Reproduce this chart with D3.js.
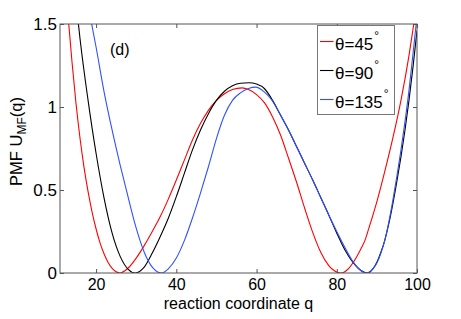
<!DOCTYPE html>
<html>
<head>
<meta charset="utf-8">
<script src="https://cdn.jsdelivr.net/npm/d3@7"></script>
<style>
  body { margin: 0; background: #fff; }
  text { font-family: "Liberation Sans", Arial, Helvetica, sans-serif; fill: #000; }
</style>
</head>
<body>
<div id="chart"></div>
<script>
let svgWidth = 461;
let svgHeight = 319;

let margin = { top: 24, right: 44, bottom: 46, left: 60 };
let width = 417 - margin.left;
let height = 273 - margin.top;

// data: reaction coordinate q and PMF value
let qRed = [13, 14, 15, 16, 17, 18, 19, 20, 21, 22, 23, 24, 25, 26, 28, 30, 32, 34, 36, 38, 40, 42, 44, 46, 48, 50, 52, 54, 56.4, 58, 60, 62, 64, 66, 68, 70, 72, 74, 76, 78, 79.5, 81, 82, 83, 84, 85, 86, 87, 88, 90, 92, 94, 96, 98, 99.2];
let uRed = [1.55, 1.27, 1.02, 0.81, 0.635, 0.49, 0.367, 0.265, 0.18, 0.114, 0.063, 0.028, 0.007, 0, 0.03, 0.09, 0.165, 0.25, 0.34, 0.445, 0.56, 0.68, 0.8, 0.9, 0.98, 1.04, 1.08, 1.105, 1.115, 1.105, 1.075, 1.025, 0.94, 0.83, 0.69, 0.545, 0.39, 0.245, 0.125, 0.045, 0.012, 0, 0.008, 0.028, 0.06, 0.1, 0.145, 0.195, 0.27, 0.43, 0.615, 0.815, 1.04, 1.31, 1.5];

let qBlack = [15.5, 16, 18, 20, 22, 24, 26, 28, 29.75, 32, 34, 36, 38, 40, 42, 44, 46, 48, 50, 52, 54, 56, 58.1, 60, 62, 64, 66, 68, 70, 72, 74, 76, 78, 80, 82, 84, 86, 87.7, 89, 90, 91, 92, 93, 94, 95, 96, 97, 98, 99, 100];
let uBlack = [1.52, 1.41, 1.04, 0.72, 0.45, 0.24, 0.1, 0.022, 0, 0.035, 0.12, 0.22, 0.33, 0.46, 0.6, 0.74, 0.86, 0.96, 1.04, 1.095, 1.128, 1.143, 1.146, 1.138, 1.11, 1.04, 0.95, 0.86, 0.76, 0.66, 0.56, 0.455, 0.35, 0.24, 0.14, 0.065, 0.015, 0, 0.025, 0.065, 0.125, 0.2, 0.3, 0.42, 0.555, 0.7, 0.86, 1.04, 1.24, 1.46];

let qBlue = [18.5, 20, 22, 24, 26, 28, 30, 32, 34, 36.25, 38, 40, 42, 44, 46, 48, 50, 52, 54, 56, 58, 59.75, 62, 64, 66, 68, 70, 72, 74, 76, 78, 80, 82, 84, 86, 87.3, 88, 89, 90, 91, 92, 93, 94, 95, 96, 97, 98, 99, 99.8];
let uBlue = [1.55, 1.36, 1.09, 0.86, 0.65, 0.455, 0.27, 0.125, 0.035, 0, 0.025, 0.09, 0.195, 0.33, 0.48, 0.64, 0.81, 0.95, 1.04, 1.085, 1.112, 1.12, 1.09, 1.035, 0.95, 0.86, 0.76, 0.66, 0.56, 0.455, 0.35, 0.25, 0.155, 0.07, 0.015, 0, 0.005, 0.025, 0.06, 0.12, 0.2, 0.31, 0.44, 0.585, 0.74, 0.91, 1.1, 1.32, 1.5];

let seriesNames = ["θ=45", "θ=90", "θ=135"];
let seriesColors = ["#ff0000", "#000000", "#3050ff"];
let xTicks = [20, 40, 60, 80, 100];
let yTicks = [0, 0.5, 1, 1.5];

let series = [
    { name: seriesNames[0], color: seriesColors[0], q: qRed, u: uRed },
    { name: seriesNames[1], color: seriesColors[1], q: qBlack, u: uBlack },
    { name: seriesNames[2], color: seriesColors[2], q: qBlue, u: uBlue }
];

let svg = d3.select("#chart")
    .append("svg")
    .attr("width", svgWidth)
    .attr("height", svgHeight);

let chartGroup = svg.append("g")
    .attr("transform", `translate(${margin.left}, ${margin.top})`);

let xScale = d3.scaleLinear().domain([11, 100]).range([0, width]);
let yScale = d3.scaleLinear().domain([0, 1.5]).range([height, 0]);

svg.append("defs").append("clipPath")
    .attr("id", "plot-clip")
    .append("rect")
    .attr("width", width)
    .attr("height", height);

// curves
let line = d3.line()
    .x(d => xScale(d[0]))
    .y(d => yScale(d[1]))
    .curve(d3.curveMonotoneX);

chartGroup.append("g")
    .attr("clip-path", "url(#plot-clip)")
    .selectAll("path")
    .data(series)
    .enter()
    .append("path")
    .attr("d", s => line(s.q.map((q, i) => [q, s.u[i]])))
    .attr("fill", "none")
    .attr("stroke", s => s.color)
    .attr("stroke-width", 1.1);

// axes with inward ticks on all sides
let axisColor = "#555";
function styleAxis(g, size) {
    g.select(".domain").remove();
    g.selectAll(".tick line").attr("stroke", axisColor);
    g.selectAll(".tick text")
        .style("font-family", "'Liberation Sans', Arial, sans-serif")
        .style("font-size", size || "17px")
        .attr("fill", "#000");
}

chartGroup.append("g")
    .attr("transform", `translate(0, ${height})`)
    .call(d3.axisBottom(xScale).tickValues(xTicks).tickSize(-4).tickPadding(6))
    .call(styleAxis, "16px");

chartGroup.append("g")
    .call(d3.axisTop(xScale).tickValues(xTicks).tickSize(-4).tickFormat(""))
    .call(styleAxis);

chartGroup.append("g")
    .call(d3.axisLeft(yScale).tickValues(yTicks).tickSize(-4).tickPadding(3).tickFormat(d => d))
    .call(styleAxis);

chartGroup.append("g")
    .attr("transform", `translate(${width}, 0)`)
    .call(d3.axisRight(yScale).tickValues(yTicks).tickSize(-4).tickFormat(""))
    .call(styleAxis);

chartGroup.append("rect")
    .attr("width", width)
    .attr("height", height)
    .attr("fill", "none")
    .attr("stroke", axisColor)
    .attr("stroke-width", 1);

// panel label
chartGroup.append("text")
    .attr("x", 50)
    .attr("y", 31)
    .style("font-size", "16px")
    .text("(d)");

// axis labels
svg.append("text")
    .attr("x", margin.left + width / 2)
    .attr("y", 309)
    .attr("text-anchor", "middle")
    .style("font-size", "16px")
    .text("reaction coordinate q");

let yLabel = svg.append("text")
    .attr("transform", "translate(21.5, 141.5) rotate(-90)")
    .attr("text-anchor", "middle")
    .style("font-size", "16.5px");
yLabel.append("tspan").text("PMF U");
yLabel.append("tspan").attr("dy", 4).style("font-size", "12px").text("MF");
yLabel.append("tspan").attr("dy", -4).text("(q)");

// legend
let legend = svg.append("g").attr("transform", "translate(317.5, 25.5)");
legend.append("rect")
    .attr("width", 77)
    .attr("height", 89)
    .attr("fill", "#fff")
    .attr("stroke", "#777");

let rows = legend.selectAll("g.row")
    .data(series)
    .enter()
    .append("g")
    .attr("class", "row")
    .attr("transform", (d, i) => `translate(0, ${24 + i * 29})`);

rows.append("line")
    .attr("x1", 2.5).attr("x2", 16)
    .attr("y1", -8).attr("y2", -8)
    .attr("stroke", d => d.color)
    .attr("stroke-width", 1.1);

let rowText = rows.append("text")
    .attr("x", 17.5)
    .style("font-size", "17px");
rowText.append("tspan").text(d => d.name);
rowText.append("tspan")
    .attr("dx", 1)
    .attr("dy", -10)
    .style("font-size", "12px")
    .text("°");
</script>
</body>
</html>
